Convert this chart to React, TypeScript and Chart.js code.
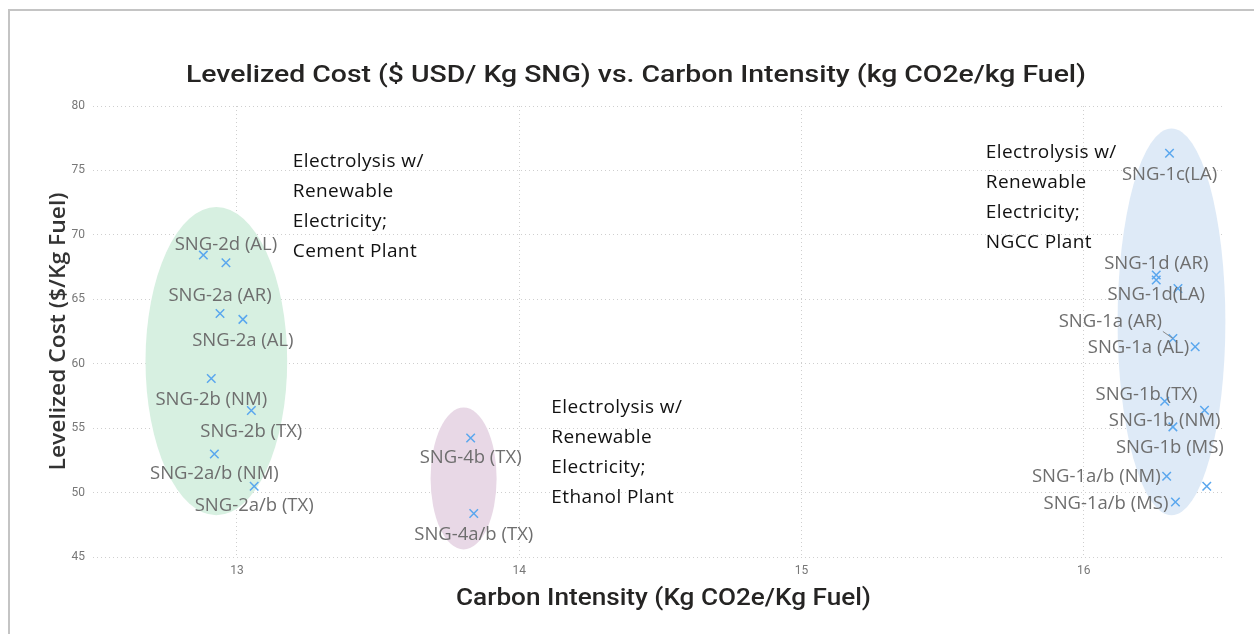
import React, { useEffect, useRef } from "react";
import { Chart, registerables } from "chart.js";

Chart.register(...registerables);

// ---------- data ----------
const pointLabels = [
  "", "SNG-2d (AL)", "SNG-2a (AR)", "SNG-2a (AL)", "SNG-2b (NM)", "SNG-2b (TX)", "SNG-2a/b (NM)", "SNG-2a/b (TX)",
  "SNG-4b (TX)", "SNG-4a/b (TX)",
  "SNG-1c(LA)", "SNG-1d(LA)", "SNG-1d (AR)", "", "SNG-1a (AR)", "SNG-1a (AL)", "SNG-1b (NM)", "SNG-1b (TX)",
  "SNG-1b (MS)", "SNG-1a/b (NM)", "", "SNG-1a/b (MS)",
];
const carbonIntensity = [
  12.881, 12.961, 12.94, 13.021, 12.909, 13.051, 12.92, 13.061,
  13.828, 13.839,
  16.304, 16.257, 16.257, 16.334, 16.316, 16.395, 16.287, 16.428, 16.316, 16.294, 16.436, 16.325,
];
const levelizedCost = [
  68.43, 67.83, 63.9, 63.44, 58.85, 56.37, 53.0, 50.49,
  54.24, 48.37,
  76.33, 66.88, 66.49, 65.84, 61.96, 61.31, 57.09, 56.39, 55.1, 51.27, 50.49, 49.27,
];
// label placement relative to its point: [dx px, dy px, align]
const labelPlacement: [number, number, string][] = [
  [0, 0, "none"], [0, -18, "center"], [0, -18, "center"], [0, 21, "center"], [0, 21, "center"], [0, 21, "center"], [0, 20, "center"], [0, 19, "center"],
  [0, 20, "center"], [0, 21, "center"],
  [0, 21, "center"], [0, 20, "center"], [0, -16, "center"], [0, 0, "none"], [-11, -17, "leader"], [-6, 1, "right"],
  [0, 20, "center"], [-7, -15, "right"], [-3, 21, "center"], [-6, 1, "right"], [0, 0, "none"], [-7, 2, "right"],
];

const xTicks = [13, 14, 15, 16];
const yTicks = [45, 50, 55, 60, 65, 70, 75, 80];

// highlighted groups (ellipses)
const groupCenterX = [12.927, 13.803, 16.311];
const groupCenterY = [60.2, 51.09, 63.25];
const groupRadiusX = [0.251, 0.117, 0.191];
const groupRadiusY = [11.96, 5.51, 15.01];
const groupColors = ["#d7f0e1", "#e8d8e6", "#deeaf7"];

// notes
const noteLines = [
  ["Electrolysis w/", "Renewable", "Electricity;", "Cement Plant"],
  ["Electrolysis w/", "Renewable", "Electricity;", "Ethanol Plant"],
  ["Electrolysis w/", "Renewable", "Electricity;", "NGCC Plant"],
];
const noteX = [13.198, 14.114, 15.653];
const noteY = [75.65, 56.63, 76.35];

const xMin = 12.49;
const xMax = 16.49;
const yMin = 45;
const yMax = 80;

const chartTitle = "Levelized Cost ($ USD/ Kg SNG) vs. Carbon Intensity (kg CO2e/kg Fuel)";
const xTitle = "Carbon Intensity (Kg CO2e/Kg Fuel)";
const yTitle = "Levelized Cost ($/Kg Fuel)";

function fitText(
  ctx: CanvasRenderingContext2D, text: string, x: number, y: number, font: string,
  color: string, width: number, rotate = 0
) {
  ctx.save();
  ctx.font = font;
  const w = ctx.measureText(text).width;
  ctx.translate(x, y);
  if (rotate) ctx.rotate(rotate);
  ctx.scale(width / w, 1);
  ctx.textAlign = "center";
  ctx.textBaseline = "alphabetic";
  ctx.fillStyle = color;
  ctx.fillText(text, 0, 0);
  ctx.restore();
}

const decorPlugin = {
  id: "decor",
  beforeDraw(chart: any) {
    const ctx = chart.ctx as CanvasRenderingContext2D;
    ctx.save();
    ctx.fillStyle = "#ffffff";
    ctx.fillRect(0, 0, chart.width, chart.height);
    ctx.fillStyle = "#c4c4c4";
    ctx.fillRect(8, 9, chart.width - 8, 2);
    ctx.fillRect(8, 9, 2, chart.height - 9);
    ctx.restore();
  },
  beforeDatasetsDraw(chart: any) {
    const ctx = chart.ctx as CanvasRenderingContext2D;
    const xs = chart.scales.x;
    const ys = chart.scales.y;
    ctx.save();
    for (let i = 0; i < groupCenterX.length; i++) {
      const cx = xs.getPixelForValue(groupCenterX[i]);
      const cy = ys.getPixelForValue(groupCenterY[i]);
      const rx = Math.abs(xs.getPixelForValue(groupCenterX[i] + groupRadiusX[i]) - cx);
      const ry = Math.abs(ys.getPixelForValue(groupCenterY[i] + groupRadiusY[i]) - cy);
      ctx.beginPath();
      ctx.ellipse(cx, cy, rx, ry, 0, 0, Math.PI * 2);
      ctx.fillStyle = groupColors[i];
      ctx.fill();
    }
    ctx.restore();
  },
  afterDatasetsDraw(chart: any) {
    const ctx = chart.ctx as CanvasRenderingContext2D;
    const xs = chart.scales.x;
    const ys = chart.scales.y;
    ctx.save();
    // data labels
    ctx.font = "18.5px 'Open Sans'";
    ctx.fillStyle = "#6e6e6e";
    ctx.textBaseline = "middle";
    for (let i = 0; i < pointLabels.length; i++) {
      const [dx, dy, align] = labelPlacement[i];
      if (align === "none" || !pointLabels[i]) continue;
      const px = xs.getPixelForValue(carbonIntensity[i]);
      const py = ys.getPixelForValue(levelizedCost[i]);
      if (align === "leader") {
        ctx.save();
        ctx.strokeStyle = "#8a8a8a";
        ctx.lineWidth = 1;
        ctx.beginPath();
        ctx.moveTo(px + dx + 1, py - 7);
        ctx.lineTo(px, py);
        ctx.stroke();
        ctx.restore();
      }
      ctx.textAlign = align === "center" ? "center" : "right";
      ctx.fillText(pointLabels[i], px + dx, py + dy);
    }
    // notes
    ctx.font = "19px 'Open Sans'";
    (ctx as any).letterSpacing = "0.4px";
    ctx.fillStyle = "#111111";
    ctx.textAlign = "left";
    for (let g = 0; g < noteLines.length; g++) {
      const nx = xs.getPixelForValue(noteX[g]);
      const ny = ys.getPixelForValue(noteY[g]);
      noteLines[g].forEach((line, k) => ctx.fillText(line, nx, ny + k * 30));
    }
    (ctx as any).letterSpacing = "0px";
    ctx.restore();
  },
  afterDraw(chart: any) {
    const ctx = chart.ctx as CanvasRenderingContext2D;
    const area = chart.chartArea;
    fitText(ctx, chartTitle, 636, 82, "500 24px Roboto", "#252423", 900);
    fitText(ctx, xTitle, (area.left + area.right) / 2 + 6, 605, "500 24px Roboto", "#252423", 415);
    fitText(ctx, yTitle, 65, (area.top + area.bottom) / 2, "600 21px 'Open Sans'", "#333333", 278, -Math.PI / 2);
  },
};

export default function App() {
  const ref = useRef<HTMLCanvasElement | null>(null);
  useEffect(() => {
    if (!ref.current) return;
    const points = carbonIntensity.map((x, i) => ({ x, y: levelizedCost[i] }));
    const tickFont = { family: "Roboto", size: 12 };
    const chart = new Chart(ref.current, {
      type: "scatter",
      data: {
        datasets: [
          {
            label: "SNG",
            data: points,
            pointStyle: "crossRot",
            pointRadius: 6,
            pointHoverRadius: 6,
            borderColor: "#5aa7ee",
            backgroundColor: "#5aa7ee",
            borderWidth: 1.5,
          },
        ],
      },
      options: {
        animation: false,
        responsive: false,
        maintainAspectRatio: false,
        events: [],
        layout: { padding: { left: 33, right: 32, top: 106, bottom: 47 } },
        plugins: {
          legend: { display: false },
          tooltip: { enabled: false },
          title: { display: false },
        },
        scales: {
          x: {
            type: "linear",
            min: xMin,
            max: xMax,
            afterFit: (s: any) => { s.height = 30; },
            afterBuildTicks: (s: any) => { s.ticks = xTicks.map((v) => ({ value: v })); },
            ticks: { padding: 7, color: "#777777", font: tickFont },
            grid: { color: "#cfcfcf", lineWidth: 1, drawTicks: false },
            border: { display: false, dash: [1, 3] },
          },
          y: {
            type: "linear",
            min: yMin,
            max: yMax,
            afterFit: (s: any) => { s.width = 60; },
            afterBuildTicks: (s: any) => { s.ticks = yTicks.map((v) => ({ value: v })); },
            ticks: { padding: 8, color: "#777777", font: tickFont },
            grid: { color: "#cfcfcf", lineWidth: 1, drawTicks: false },
            border: { display: false, dash: [1, 3] },
          },
        },
      },
      plugins: [decorPlugin],
    } as any);
    return () => chart.destroy();
  }, []);
  return (
    <div style={{ position: "fixed", left: 0, top: 0, width: 1254, height: 634, overflow: "hidden", background: "#fff" }}>
      <canvas ref={ref} width={1254} height={634} style={{ display: "block" }} />
    </div>
  );
}
